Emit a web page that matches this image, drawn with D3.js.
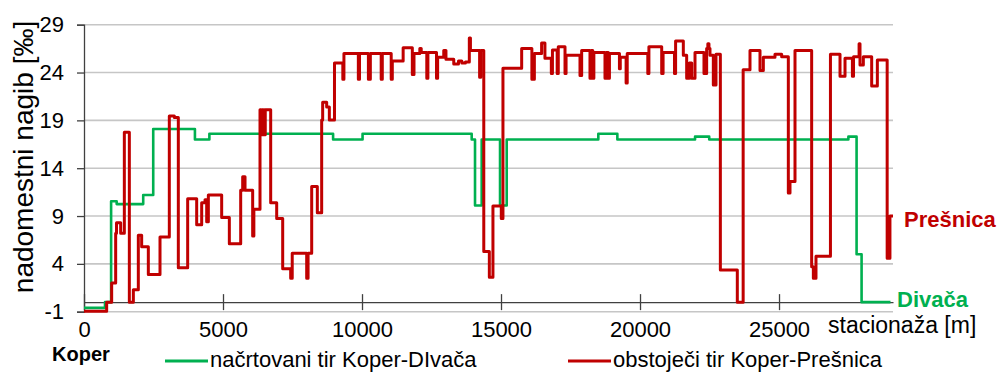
<!DOCTYPE html>
<html>
<head>
<meta charset="utf-8">
<script src="https://cdn.jsdelivr.net/npm/d3@7"></script>
<style>
  html, body { margin: 0; padding: 0; background: #fff; }
  svg { display: block; font-family: "Liberation Sans", Arial, sans-serif; }
</style>
</head>
<body>
<svg id="chart" width="1000" height="372"></svg>
<script>
// Gradient profiles: [station in m, equivalent gradient in ‰]; each value holds until the next station.
const divaca = [
  [0, -0.6], [755, 0.0], [975, 10.55], [1175, 10.25], [2130, 11.2], [2490, 18.1],
  [3990, 17.0], [4510, 17.6], [8960, 17.0], [10020, 17.6], [13945, 17.0],
  [14065, 10.1], [14305, 17.0], [14965, 10.1], [15205, 17.0], [18500, 17.6],
  [19185, 17.0], [21980, 17.3], [22490, 17.0], [27495, 17.3], [27790, 5.0],
  [27970, 0.0], [29010, 0.0]
];

const presnica = [
  [0, -0.95], [815, 0.0], [995, 2.0], [1139, 7.2], [1170, 8.3], [1319, 7.2],
  [1451, 17.75], [1631, 0.0], [1775, 1.3], [1954, 7.0], [2074, 5.8], [2314, 2.9],
  [2734, 6.8], [3069, 19.45], [3250, 19.3], [3393, 3.6], [3729, 10.8], [4053, 8.1],
  [4233, 10.4], [4353, 10.7], [4413, 8.4], [4473, 11.2], [4952, 8.85], [5228, 6.1],
  [5636, 11.7], [5708, 13.1], [5792, 11.7], [6067, 6.9], [6110, 9.7], [6331, 20.1],
  [6370, 17.5], [6400, 20.1], [6430, 17.5], [6460, 20.1], [6490, 17.5], [6520, 20.1],
  [6715, 10.4], [6931, 8.75], [7147, 3.5], [7434, 2.5], [7490, 5.1], [8010, 2.5],
  [8060, 5.1], [8190, 12.1], [8393, 9.35], [8549, 19.05], [8585, 20.9], [8729, 20.4],
  [8825, 19.05], [9010, 25.0], [9310, 23.3], [9350, 26.0], [9868, 23.3], [9910, 26.0],
  [10230, 23.3], [10300, 26.0], [10690, 23.3], [10730, 26.0], [11050, 23.3],
  [11090, 25.2], [11480, 26.6], [11810, 23.8], [11870, 26.0], [12080, 26.5],
  [12130, 26.1], [12330, 23.4], [12370, 26.1], [12680, 23.4], [12720, 25.6],
  [12940, 26.3], [13020, 25.4], [13300, 24.9], [13470, 25.2], [13590, 25.0],
  [13720, 25.1], [13860, 27.6], [13900, 26.3], [14230, 23.5], [14270, 26.3],
  [14380, 5.3], [14580, 2.6], [14710, 10.05], [15010, 8.75], [15070, 24.45],
  [15743, 26.5], [16110, 23.3], [16200, 26.0], [16460, 27.1], [16580, 25.5],
  [16810, 23.9], [16850, 26.35], [17020, 23.9], [17060, 26.7], [17302, 23.9],
  [17340, 25.8], [17841, 23.7], [17901, 26.3], [18200, 23.4], [18240, 26.3],
  [18300, 23.4], [18340, 26.1], [18740, 23.4], [18780, 26.1], [18860, 23.4],
  [18900, 26.0], [19260, 24.4], [19290, 25.6], [19500, 22.9], [19540, 26.0],
  [20280, 23.9], [20320, 26.7], [20780, 23.9], [20830, 26.1], [21240, 23.9],
  [21280, 27.3], [21558, 25.8], [21678, 23.4], [21774, 25.0], [21858, 23.4],
  [21978, 26.1], [22301, 23.9], [22397, 26.5], [22440, 27.0], [22480, 26.5],
  [22517, 25.8], [22637, 22.7], [22733, 25.9], [22890, 3.35], [23500, 0.0],
  [23710, 24.3], [23956, 26.3], [24316, 24.2], [24436, 25.6], [24855, 25.9],
  [25095, 25.65], [25335, 11.4], [25395, 12.6], [25575, 26.3], [26174, 3.7],
  [26235, 2.5], [26330, 4.8], [26850, 25.9], [27194, 23.6], [27374, 25.5],
  [27640, 23.6], [27680, 25.65], [27880, 27.0], [27913, 24.8], [28033, 25.65],
  [28333, 22.6], [28537, 25.3], [28890, 4.6], [28990, 9.0], [29100, 9.0]
];

const yTicks = [-1, 4, 9, 14, 19, 24, 29];
const xTicks = [0, 5000, 10000, 15000, 20000, 25000];

const legendItems = [
  { label: "načrtovani tir Koper-DIvača", color: "#00b050" },
  { label: "obstoječi tir Koper-Prešnica", color: "#c00000" }
];

const svg = d3.select("#chart");
const FONT = "22px";
const plainNumber = d => String(d);

const x = d3.scaleLinear().domain([0, 29100]).range([84, 893]);
const y = d3.scaleLinear().domain([-1, 29]).range([311.7, 24.7]);

// Horizontal gridlines
svg.append("g")
  .selectAll("line")
  .data(yTicks)
  .join("line")
  .attr("x1", x(0)).attr("x2", x(29100))
  .attr("y1", d => y(d)).attr("y2", d => y(d))
  .attr("stroke", "#c6c6c6")
  .attr("stroke-width", 1.6);

// Y axis
const yAxis = svg.append("g")
  .attr("transform", `translate(${x(0)},0)`)
  .call(d3.axisLeft(y).tickValues(yTicks).tickSize(7).tickPadding(13).tickFormat(plainNumber));
yAxis.select(".domain").attr("stroke", "#404040").attr("stroke-width", 1.3);
yAxis.selectAll(".tick line").attr("stroke", "#404040").attr("stroke-width", 1.3);
yAxis.selectAll(".tick text")
  .attr("font-size", FONT).attr("fill", "#000")
  .attr("font-family", "Liberation Sans, Arial, sans-serif");

// X axis at gradient 0, tick marks crossing the line
const xAxis = svg.append("g")
  .attr("transform", `translate(0,${y(0)})`)
  .call(d3.axisBottom(x).tickValues(xTicks).tickSizeInner(8).tickSizeOuter(0).tickFormat(plainNumber));
xAxis.select(".domain").attr("stroke", "#404040").attr("stroke-width", 1.3);
xAxis.selectAll(".tick line").attr("y1", -8).attr("y2", 8).attr("stroke", "#404040").attr("stroke-width", 1.3);
xAxis.selectAll(".tick text")
  .attr("y", 35).attr("dy", null)
  .attr("font-size", FONT).attr("fill", "#000")
  .attr("font-family", "Liberation Sans, Arial, sans-serif");

// Profiles
const stepLine = d3.line()
  .x(d => x(d[0]))
  .y(d => y(d[1]))
  .curve(d3.curveStepAfter);

svg.append("path")
  .datum(divaca)
  .attr("d", stepLine)
  .attr("fill", "none")
  .attr("stroke", "#00b050")
  .attr("stroke-width", 2.6)
  .attr("stroke-linejoin", "round");

svg.append("path")
  .datum(presnica)
  .attr("d", stepLine)
  .attr("fill", "none")
  .attr("stroke", "#c00000")
  .attr("stroke-width", 3)
  .attr("stroke-linejoin", "round");

// Axis titles
svg.append("text")
  .attr("transform", "translate(33,157) rotate(-90)")
  .attr("text-anchor", "middle")
  .attr("font-size", "28px")
  .attr("fill", "#000")
  .text("nadomestni nagib [‰]");

svg.append("text")
  .attr("x", 828).attr("y", 333)
  .attr("font-size", "23px")
  .attr("fill", "#000")
  .text("stacionaža [m]");

// End-point labels
svg.append("text")
  .attr("x", 52).attr("y", 361)
  .attr("font-size", "20px").attr("font-weight", "bold")
  .attr("fill", "#000")
  .text("Koper");

svg.append("text")
  .attr("x", 904).attr("y", 227)
  .attr("font-size", FONT).attr("font-weight", "bold")
  .attr("fill", "#c00000")
  .text("Prešnica");

svg.append("text")
  .attr("x", 897).attr("y", 307)
  .attr("font-size", FONT).attr("font-weight", "bold")
  .attr("fill", "#00b050")
  .text("Divača");

// Legend
const legendX = [165, 568];
const legend = svg.append("g")
  .selectAll("g")
  .data(legendItems)
  .join("g")
  .attr("transform", (d, i) => `translate(${legendX[i]},361)`);
legend.append("line")
  .attr("x1", 0).attr("x2", 43).attr("y1", 0).attr("y2", 0)
  .attr("stroke", d => d.color).attr("stroke-width", 3);
legend.append("text")
  .attr("x", 45).attr("y", 6)
  .attr("font-size", FONT).attr("fill", "#000")
  .text(d => d.label);
</script>
</body>
</html>
